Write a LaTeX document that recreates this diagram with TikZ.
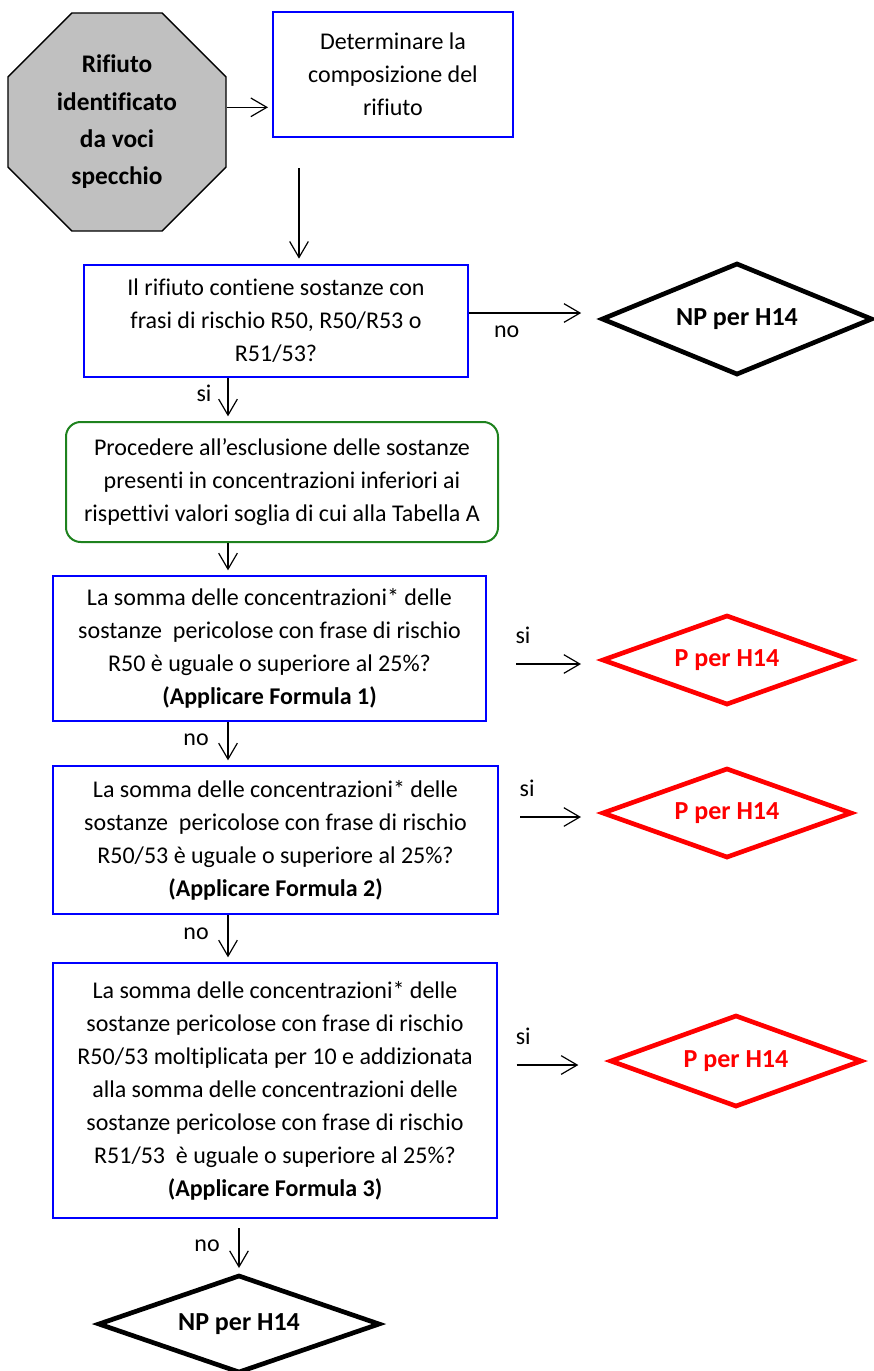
\documentclass[tikz,border=0pt]{standalone}
\usepackage{fontspec}
\setmainfont{Carlito}[Ligatures=NoCommon]
\usepackage{xcolor}
\usetikzlibrary{shapes,arrows.meta,positioning}

\definecolor{boxblue}{RGB}{0,0,255}
\definecolor{boxgreen}{RGB}{30,130,30}
\definecolor{octgray}{RGB}{192,192,192}
\definecolor{pred}{RGB}{255,0,0}

\begin{document}
\begin{tikzpicture}[x=0.75pt, y=-0.75pt,
    every node/.style={font=\fontsize{18}{24.75}\selectfont},
    box/.style={draw=boxblue, line width=1.5pt, align=center, inner sep=0pt},
    grnbox/.style={draw=boxgreen, line width=1.5pt, rounded corners=11pt, align=center, inner sep=0pt},
    oct/.style={regular polygon, regular polygon sides=8, minimum size=177pt, draw, fill=octgray,
        line width=1pt, inner sep=0pt, align=center, font=\fontsize{19}{28}\selectfont\bfseries},
    dia/.style={diamond, aspect=3, inner sep=0pt, line width=3.5pt, font=\fontsize{19.5}{24}\selectfont\bfseries},
    npdia/.style={dia, draw=black},
    pdia/.style={dia, draw=pred, text=pred, minimum width=187.5pt, minimum height=67.5pt},
    arr/.style={-{Straight Barb[length=12pt,width=14pt]}, line width=0.9pt},
    lbl/.style={inner sep=3pt}
]
    \useasboundingbox (0,0) rectangle (874,1371);

    % Start
    \node[oct] (oct) at (117,122) {Rifiuto\\identificato\\da voci\\specchio};
    \node[box, minimum width=180pt, minimum height=93.75pt] (det) at (393,74.5)
        {Determinare la\\composizione del\\rifiuto};
    \coordinate (c0) at (299,168);
    \coordinate (ax) at (228,0);

    % Questions
    \node[box, minimum width=288pt, minimum height=84pt] (q1) at (276,321)
        {Il rifiuto contiene sostanze con\\frasi di rischio R50, R50/R53 o\\R51/53?};
    \node[grnbox, minimum width=324pt, minimum height=90pt] (grn) at (282,482)
        {Procedere all’esclusione delle sostanze\\presenti in concentrazioni inferiori ai\\rispettivi valori soglia di cui alla Tabella A};
    \node[box, minimum width=324.75pt, minimum height=108.75pt] (q2) at (269.5,648.5)
        {La somma delle concentrazioni* delle\\sostanze\ \ pericolose con frase di rischio\\R50 è uguale o superiore al 25\%?\\\textbf{(Applicare Formula 1)}};
    \node[box, minimum width=333.75pt, minimum height=111pt] (q3) at (275.5,840)
        {La somma delle concentrazioni* delle\\sostanze\ \ pericolose con frase di rischio\\R50/53 è uguale o superiore al 25\%?\\\textbf{(Applicare Formula 2)}};
    \node[box, minimum width=333pt, minimum height=191.25pt] (q4) at (275,1090.5)
        {La somma delle concentrazioni* delle\\sostanze pericolose con frase di rischio\\R50/53 moltiplicata per 10 e addizionata\\alla somma delle concentrazioni delle\\sostanze pericolose con frase di rischio\\R51/53\ \ è uguale o superiore al 25\%?\\\textbf{(Applicare Formula 3)}};

    % Outcomes
    \node[npdia, minimum width=203.25pt, minimum height=84pt] (np1) at (737,319) {NP per H14};
    \node[pdia] (p1) at (727,660) {P per H14};
    \node[pdia] (p2) at (727,813) {P per H14};
    \node[pdia, minimum width=189pt, minimum height=69pt] (p3) at (736,1061) {P per H14};
    \node[npdia, minimum width=211.5pt, minimum height=73.5pt] (np2) at (239,1324) {NP per H14};

    % Arrows
    \draw[arr, shorten >=3pt] ([yshift=11pt]oct.east) -- ([yshift=11pt]oct.east -| det.west);
    \draw[arr, shorten >=4pt] (c0) -- (c0 |- q1.north);
    \draw[arr, shorten >=13.5pt] ([yshift=6pt]q1.east) -- ([yshift=6pt]q1.east -| np1.west)
        node[lbl, pos=.29, below=6pt] (no1) {no};
    \draw[arr, shorten >=3.5pt] (q1.south -| ax) -- (grn.north -| ax)
        node[lbl, pos=.35, left=9pt] (si1) {si};
    \draw[arr, shorten >=3.5pt] (grn.south -| ax) -- (q2.north -| ax);
    \draw[arr, shorten >=3.5pt] (q2.south -| ax) -- (q3.north -| ax)
        node[lbl, pos=.42, left=11pt] (no2) {no};
    \draw[arr, shorten >=3.5pt] (q3.south -| ax) -- (q4.north -| ax)
        node[lbl, pos=.39, left=11pt] (no3) {no};
    \draw[arr, shorten <=7pt, shorten >=3.5pt] (q4.south -| np2.north) -- (np2.north)
        node[lbl, pos=.5, left=11pt] (no4) {no};

    \draw[arr, shorten <=22pt, shorten >=14pt] ([yshift=-3pt]p1.west -| q2.east) -- ([yshift=-3pt]p1.west)
        node[lbl, pos=.32, above=12pt] (si2) {si};
    \draw[arr, shorten <=16pt, shorten >=14pt] ([yshift=-3pt]p2.west -| q3.east) -- ([yshift=-3pt]p2.west)
        node[lbl, pos=.28, above=12pt] (si3) {si};
    \draw[arr, shorten <=14pt, shorten >=22pt] ([yshift=-3pt]p3.west -| q4.east) -- ([yshift=-3pt]p3.west)
        node[lbl, pos=.23, above=12pt] (si4) {si};
\end{tikzpicture}
\end{document}
